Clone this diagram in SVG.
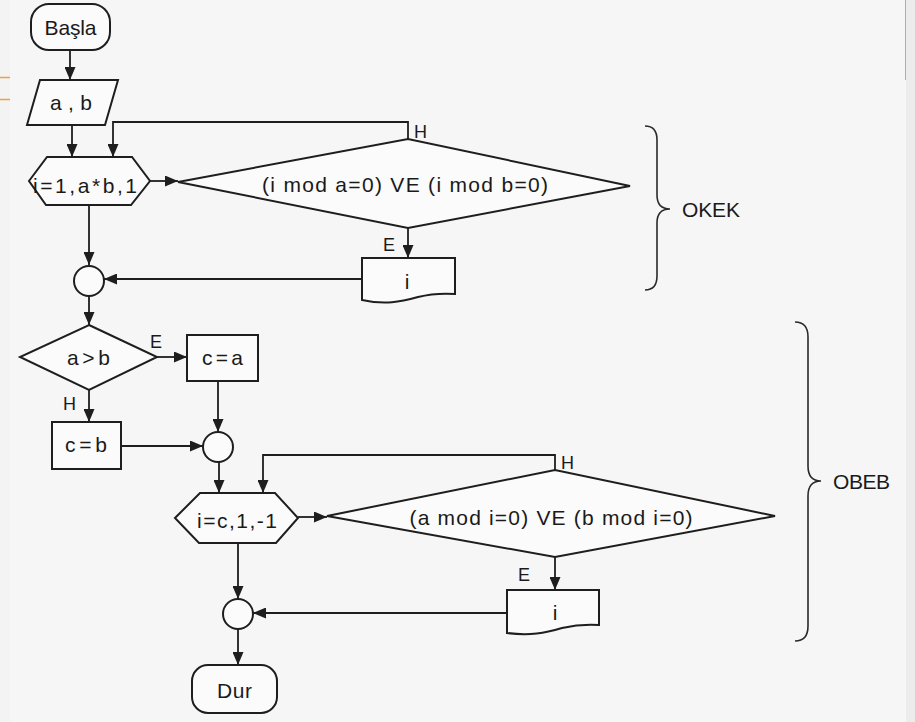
<svg xmlns="http://www.w3.org/2000/svg" width="915" height="722" viewBox="0 0 915 722">
<style>
.s{fill:#fbfbfb;stroke:#1e1e1e;stroke-width:2}
.c{fill:none;stroke:#1e1e1e;stroke-width:1.8}
.b{fill:none;stroke:#2a2a2a;stroke-width:1.6}
.t{font-family:"Liberation Sans",Arial,sans-serif;font-size:21px;fill:#1a1a1a;text-anchor:middle}
.l{font-family:"Liberation Sans",Arial,sans-serif;font-size:18px;fill:#1a1a1a}
</style>
<defs>
<marker id="ah" markerUnits="userSpaceOnUse" markerWidth="13" markerHeight="11" refX="13" refY="5.5" orient="auto">
<path d="M0,0 L13,5.5 L0,11 Z" fill="#1e1e1e"/>
</marker>
</defs>
<rect x="0" y="0" width="915" height="722" fill="#f3f3f3"/>
<rect x="10" y="0" width="896" height="722" fill="#f6f6f6"/>
<rect x="906" y="0" width="9" height="722" fill="#ececec"/>
<line x1="905.5" y1="0" x2="905.5" y2="80" stroke="#f0a040" stroke-width="1"/>
<line x1="0" y1="77.5" x2="10" y2="77.5" stroke="#f0a040" stroke-width="1.5"/>
<line x1="0" y1="99.5" x2="10" y2="99.5" stroke="#f0a040" stroke-width="1.5"/>

<g id="connectors">
<line class="c" x1="70" y1="50" x2="70" y2="80" marker-end="url(#ah)"/>
<line class="c" x1="72" y1="125" x2="72" y2="157" marker-end="url(#ah)"/>
<polyline class="c" points="408,139 408,122 113,122 113,157" marker-end="url(#ah)"/>
<line class="c" x1="150" y1="181" x2="178" y2="181" marker-end="url(#ah)"/>
<line class="c" x1="408" y1="228" x2="408" y2="258" marker-end="url(#ah)"/>
<line class="c" x1="89" y1="205" x2="89" y2="265" marker-end="url(#ah)"/>
<line class="c" x1="362" y1="279" x2="104" y2="279" marker-end="url(#ah)"/>
<line class="c" x1="89" y1="296" x2="89" y2="325" marker-end="url(#ah)"/>
<line class="c" x1="157" y1="357" x2="187" y2="357" marker-end="url(#ah)"/>
<line class="c" x1="89" y1="390" x2="89" y2="422" marker-end="url(#ah)"/>
<line class="c" x1="218" y1="381" x2="218" y2="432" marker-end="url(#ah)"/>
<line class="c" x1="121" y1="446" x2="203" y2="446" marker-end="url(#ah)"/>
<line class="c" x1="219" y1="462" x2="219" y2="493" marker-end="url(#ah)"/>
<polyline class="c" points="555,470 555,455 263,455 263,493" marker-end="url(#ah)"/>
<line class="c" x1="298" y1="517" x2="327" y2="517" marker-end="url(#ah)"/>
<line class="c" x1="555" y1="557" x2="555" y2="590" marker-end="url(#ah)"/>
<line class="c" x1="238" y1="543" x2="238" y2="599" marker-end="url(#ah)"/>
<line class="c" x1="507" y1="613" x2="253" y2="613" marker-end="url(#ah)"/>
<line class="c" x1="238" y1="629" x2="238" y2="665" marker-end="url(#ah)"/>
<text class="l" x="414" y="138">H</text>
<text class="l" x="383" y="251">E</text>
<text class="l" x="150" y="348">E</text>
<text class="l" x="63" y="410">H</text>
<text class="l" x="561" y="469">H</text>
<text class="l" x="518" y="581">E</text>
</g>

<g id="basla">
<rect class="s" x="31" y="4" width="79" height="46" rx="18"/>
<text class="t" x="70.5" y="35" textLength="52" lengthAdjust="spacing">Başla</text>
</g>
<g id="input">
<polygon class="s" points="40,80 118,80 105,125 27,125"/>
<text class="t" x="71" y="110" textLength="42" lengthAdjust="spacing">a , b</text>
</g>
<g id="loop1">
<polygon class="s" points="29,181 47,157 132,157 150,181 131,205 46,205"/>
<text class="t" x="85" y="193" textLength="104" lengthAdjust="spacing">i=1,a*b,1</text>
</g>
<g id="cond1">
<polygon class="s" points="178,182 408,139 630,186 408,228"/>
<text class="t" x="405" y="192" textLength="286" lengthAdjust="spacing">(i mod a=0) VE (i mod b=0)</text>
</g>
<g id="out1">
<path class="s" d="M362,258 H455 V294 C440,293 430,294 418,297 C400,302 385,305 362,300 Z"/>
<text class="t" x="407" y="289">i</text>
</g>
<g id="join1">
<circle class="s" cx="89" cy="281" r="15"/>
</g>
<g id="cmp">
<polygon class="s" points="89,325 157,357 89,390 20,357"/>
<text class="t" x="88.5" y="365" textLength="43" lengthAdjust="spacing">a&gt;b</text>
</g>
<g id="ca">
<rect class="s" x="187" y="335" width="71" height="46"/>
<text class="t" x="222.5" y="365" textLength="41" lengthAdjust="spacing">c=a</text>
</g>
<g id="cb">
<rect class="s" x="52" y="422" width="69" height="47"/>
<text class="t" x="86" y="452" textLength="42" lengthAdjust="spacing">c=b</text>
</g>
<g id="join2">
<circle class="s" cx="218" cy="447" r="15"/>
</g>
<g id="loop2">
<polygon class="s" points="175,518 200,493 275,493 298,518 276,543 199,543"/>
<text class="t" x="237" y="528" textLength="80" lengthAdjust="spacing">i=c,1,-1</text>
</g>
<g id="cond2">
<polygon class="s" points="327,516 555,470 775,516 555,557"/>
<text class="t" x="551" y="525" textLength="283" lengthAdjust="spacing">(a mod i=0) VE (b mod i=0)</text>
</g>
<g id="out2">
<path class="s" d="M507,590 H599 V625 C585,624 575,625 562,628 C545,633 530,636 507,633 Z"/>
<text class="t" x="555" y="620">i</text>
</g>
<g id="join3">
<circle class="s" cx="238" cy="614" r="15"/>
</g>
<g id="dur">
<rect class="s" x="192" y="665" width="85" height="48" rx="16"/>
<text class="t" x="234.5" y="698" textLength="35" lengthAdjust="spacing">Dur</text>
</g>
<g id="okek">
<path class="b" d="M645,126 Q657,126 657,140 V195 Q657,209 670,209 Q657,209 657,223 V276 Q657,290 645,290"/>
<text class="t" x="711" y="217" textLength="58" lengthAdjust="spacing">OKEK</text>
</g>
<g id="obeb">
<path class="b" d="M795,322 Q808,322 808,337 V466 Q808,481 821,481 Q808,481 808,496 V626 Q808,641 795,641"/>
<text class="t" x="861.5" y="489" textLength="57" lengthAdjust="spacing">OBEB</text>
</g>
</svg>
